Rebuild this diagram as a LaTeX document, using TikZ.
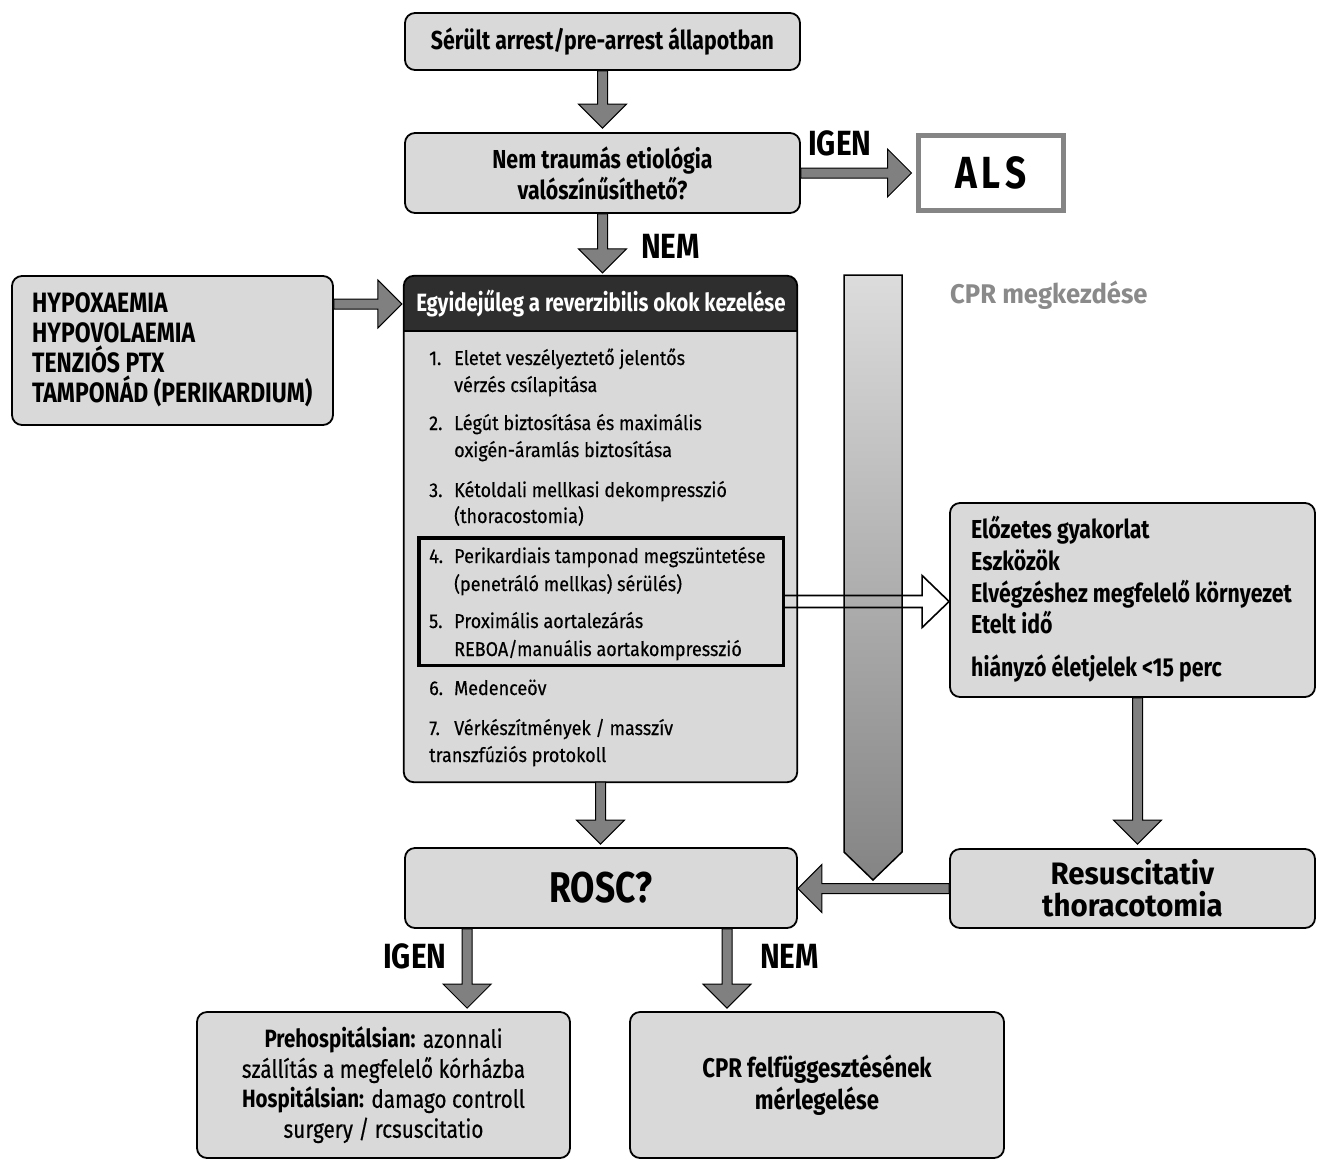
\documentclass[tikz,border=0pt]{standalone}
\usepackage{fontspec}
\setmainfont{Fira Sans}
\newfontfamily\fc{Fira Sans}[FakeStretch=0.82]
\newfontfamily\fn{Fira Sans}[FakeStretch=0.83, FakeBold=0.4]
\newfontfamily\fr{Fira Sans}[FakeStretch=0.9, FakeBold=0.4]
\newfontfamily\flab{Fira Sans}[FakeStretch=0.85]
\newfontfamily\fw{Fira Sans}[FakeStretch=0.95]
\usetikzlibrary{calc}
\definecolor{boxgray}{HTML}{D9D9D9}
\definecolor{arrgray}{HTML}{808080}
\definecolor{hdrcol}{HTML}{2E2E2E}
\definecolor{alsgray}{HTML}{858585}
\definecolor{bartop}{HTML}{DCDCDC}
\definecolor{barbot}{HTML}{848484}
\definecolor{cprgray}{HTML}{8A8A8A}
\newcommand\fsz[2]{\fontsize{#1}{#2}\selectfont}
\newcommand\arrD[2]{\draw[blk] let \p1=(#1), \p2=(#2) in (\x1-5pt,\y1) -- (\x1-5pt,\y2+24pt) -- (\x1-24pt,\y2+24pt) -- (\x1,\y2) -- (\x1+24pt,\y2+24pt) -- (\x1+5pt,\y2+24pt) -- (\x1+5pt,\y1) -- cycle;}
\newcommand\arrR[2]{\draw[blk] let \p1=(#1), \p2=(#2) in (\x1,\y1+5pt) -- (\x2-24pt,\y1+5pt) -- (\x2-24pt,\y1+24pt) -- (\x2,\y1) -- (\x2-24pt,\y1-24pt) -- (\x2-24pt,\y1-5pt) -- (\x1,\y1-5pt) -- cycle;}
\newcommand\arrL[2]{\draw[blk] let \p1=(#1), \p2=(#2) in (\x1,\y1+5pt) -- (\x2+24pt,\y1+5pt) -- (\x2+24pt,\y1+24pt) -- (\x2,\y1) -- (\x2+24pt,\y1-24pt) -- (\x2+24pt,\y1-5pt) -- (\x1,\y1-5pt) -- cycle;}
\tikzset{
  box/.style={draw, line width=1.8pt, rounded corners=10pt, fill=boxgray, inner sep=0pt, align=center},
  blk/.style={draw, line width=1pt, fill=arrgray, line join=miter},
  bt/.style={font=\fc\bfseries\fsz{26}{31}},
  lt/.style={anchor=base west, inner sep=0pt, font=\fr\fsz{20}{27}},
  bl/.style={anchor=base west, inner sep=0pt, font=\fc\bfseries\fsz{28}{30}},
  rt/.style={anchor=base west, inner sep=0pt, font=\fc\bfseries\fsz{26}{30}},
  lab/.style={anchor=base west, inner sep=0pt, font=\flab\bfseries\fsz{35}{35}},
  hollow/.style={draw, line width=1.6pt, line join=miter},
}
\begin{document}
\begin{tikzpicture}[x=1pt,y=-1pt]
\useasboundingbox (0,0) rectangle (1317,1160);

% top boxes
\node[box, bt, minimum width=395pt, minimum height=57pt] (top) at (602.5,41.5) {Sérült arrest/pre-arrest állapotban};
\node[box, bt, minimum width=395pt, minimum height=80pt] (q) at (602.5,173) {Nem traumás etiológia\\valószínűsíthető?};
\node[draw=alsgray, line width=5pt, fill=white, minimum width=145pt, minimum height=75pt, inner sep=0pt, font=\fc\bfseries\fsz{45}{45}] (als) at (991,173) {A\hspace{5pt}L\hspace{5pt}S};

% main box
\node[draw=none, fill=hdrcol, rounded corners=10pt, minimum width=393pt, minimum height=506pt, inner sep=0pt] (main) at (600.5,529) {};
\coordinate (hsep) at (0,331);
\begin{scope}
  \clip[rounded corners=10pt] (main.north west) rectangle (main.south east);
  \fill[boxgray] (main.west |- hsep) rectangle (main.south east);
\end{scope}
\draw[line width=1.8pt, rounded corners=10pt] (main.north west) rectangle (main.south east);
\draw[line width=1.8pt] (main.west |- hsep) -- (main.east |- hsep);
\node[inner sep=0pt, text=white, font=\fc\bfseries\fsz{25}{25}] (hdr) at (601,304) {Egyidejűleg a reverzibilis okok kezelése};

\node[draw, line width=3.5pt, minimum width=364.5pt, minimum height=127.5pt, inner sep=0pt] (box45) at (601,601.5) {};

\node[lt] (n1) at (429,365) {1.};
\node[lt] (l1a) at (454,365) {Eletet veszélyeztető jelentős};
\node[lt] (l1b) at (454,392) {vérzés csílapitása};
\node[lt] (n2) at (429,430) {2.};
\node[lt] (l2a) at (454,430) {Légút biztosítása és maximális};
\node[lt] (l2b) at (454,457) {oxigén-áramlás biztosítása};
\node[lt] (n3) at (429,497) {3.};
\node[lt] (l3a) at (454,497) {Kétoldali mellkasi dekompresszió};
\node[lt] (l3b) at (454,523) {(thoracostomia)};
\node[lt] (n4) at (429,563) {4.};
\node[lt] (l4a) at (454,563) {Perikardiais tamponad megszüntetése};
\node[lt] (l4b) at (454,591) {(penetráló mellkas) sérülés)};
\node[lt] (n5) at (429,628) {5.};
\node[lt] (l5a) at (454,628) {Proximális aortalezárás};
\node[lt] (l5b) at (454,656) {REBOA/manuális aortakompresszió};
\node[lt] (n6) at (429,695) {6.};
\node[lt] (l6a) at (454,695) {Medenceöv};
\node[lt] (n7) at (429,735) {7.};
\node[lt] (l7a) at (454,735) {Vérkészítmények / masszív};
\node[lt] (l7b) at (429,762) {transzfúziós protokoll};

% left box
\node[box, minimum width=321pt, minimum height=149pt] (lb) at (172.5,350.5) {};
\node[bl] (lb1) at (32,312) {HYPOXAEMIA};
\node[bl] (lb2) at (32,342) {HYPOVOLAEMIA};
\node[bl] (lb3) at (32,372) {TENZIÓS PTX};
\node[bl] (lb4) at (32,402) {TAMPONÁD (PERIKARDIUM)};

% CPR bar
\shade[draw, line width=1.5pt, top color=bartop, bottom color=barbot] (844,275) -- (902,275) -- (902,852) -- (873,880) -- (844,852) -- cycle;
\node[anchor=base west, inner sep=0pt, text=cprgray, font=\fw\bfseries\fsz{27}{27}] (cpr) at (950,303) {CPR megkezdése};

% right box
\node[box, minimum width=365pt, minimum height=194pt] (er) at (1132.5,600) {};
\node[rt] (er1) at (971,538) {Előzetes gyakorlat};
\node[rt] (er2) at (971,570) {Eszközök};
\node[rt] (er3) at (971,602) {Elvégzéshez megfelelő környezet};
\node[rt] (er4) at (971,633) {Etelt idő};
\node[rt] (er5) at (971,676) {hiányzó életjelek <15 perc};

% hollow arrow
\draw[hollow] let \p1=(box45.east), \p2=(er.west) in (\x1,\y1+6pt) -- (\x2-27pt,\y1+6pt) -- (\x2-27pt,\y1+26pt) -- (\x2,\y1) -- (\x2-27pt,\y1-26pt) -- (\x2-27pt,\y1-6pt) -- (\x1,\y1-6pt);

% lower boxes
\node[box, minimum width=365pt, minimum height=79pt, font=\fw\bfseries\fsz{31}{32}] (res) at (1132.5,888.5) {Resuscitativ\\thoracotomia};
\node[box, minimum width=392pt, minimum height=80pt, font=\fc\bfseries\fsz{43}{43}] (rosc) at (601,888) {ROSC?};
\node[box, minimum width=373pt, minimum height=146pt, font=\fn\fsz{25}{30}] (bl) at (383.5,1085) {{\fc\bfseries Prehospitálsian:} azonnali\\szállítás a megfelelő kórházba\\{\fc\bfseries Hospitálsian:} damago controll\\surgery / rcsuscitatio};
\node[box, minimum width=374pt, minimum height=146pt, font=\fc\bfseries\fsz{27}{32}] (br) at (817,1085) {CPR felfüggesztésének\\mérlegelése};

% labels
\node[lab] (igen1) at (808,155) {IGEN};
\node[lab] (nem1) at (641,258) {NEM};
\node[lab] (igen2) at (383,968) {IGEN};
\node[lab] (nem2) at (760,968) {NEM};

% block arrows
\arrD{top.south}{$(q.north)+(0,-4)$}
\arrR{q.east}{$(als.west)+(-4.5,0)$}
\arrD{q.south}{$(main.north)+(0,-3)$}
\arrR{lb.east |- hdr}{$(main.west |- hdr)+(-2,0)$}
\arrD{main.south}{$(rosc.north)+(0,-3)$}
\arrD{$(er.south)+(5,0)$}{$(res.north)+(5,-4)$}
\arrL{res.west}{rosc.east}
\arrD{$(rosc.south west)!0.16!(rosc.south east)$}{$(bl.north)+(0,-3)$}
\arrD{$(rosc.south west)!0.82!(rosc.south east)$}{$(br.north)+(0,-3)$}
\end{tikzpicture}
\end{document}
